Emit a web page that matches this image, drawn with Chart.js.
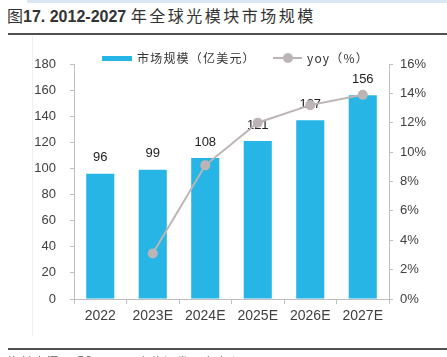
<!DOCTYPE html>
<html><head><meta charset="utf-8">
<script src="https://cdn.jsdelivr.net/npm/chart.js@4.4.1/dist/chart.umd.min.js"></script>
<style>
html,body{margin:0;padding:0;background:#fff;width:447px;height:357px;overflow:hidden;position:relative;font-family:"Liberation Sans",Arial,sans-serif;}
#band{position:absolute;left:27px;top:0;width:420px;height:3px;background:#dbe6f5;}
#title{position:absolute;left:7px;top:4px;font-size:16px;color:#333;white-space:nowrap;line-height:22px;}
#title .cn0{font-family:"Noto Sans CJK SC",sans-serif;font-weight:normal;}
#title .num{font-family:"Liberation Sans",Arial,sans-serif;font-weight:bold;}
#title .cn{font-family:"Noto Sans CJK SC",sans-serif;font-weight:normal;letter-spacing:2.5px;}
#rule1{position:absolute;left:8px;top:33px;width:439px;height:2px;background:#505050;}
#rule2{position:absolute;left:8px;top:348px;width:439px;height:2px;background:#505050;}
#frame{position:absolute;left:32px;top:36px;width:1px;height:300px;background:#f0f0f0;}
#footer{position:absolute;left:8px;top:353px;font-size:11px;color:#555;font-family:"Noto Sans CJK SC",sans-serif;white-space:nowrap;letter-spacing:2px;}
#wrap{position:absolute;left:0;top:0;width:447px;height:357px;}
.lg{position:absolute;top:49px;font-size:12px;color:#333;font-family:"Noto Sans CJK SC",sans-serif;white-space:nowrap;line-height:18px;letter-spacing:1.2px;}
#lgbar{position:absolute;left:102px;top:56px;width:30px;height:5px;background:#27b5e6;}
#lgline{position:absolute;left:273px;top:57px;width:29px;height:2px;background:#bdb5b5;}
#lgdot{position:absolute;left:283px;top:53px;width:10px;height:10px;border-radius:50%;background:#bdb5b5;}
</style></head>
<body>
<div id="band"></div>
<div id="title"><span class="cn0">图</span><span class="num">17. 2012-2027 </span><span class="cn">年全球光模块市场规模</span></div>
<div id="rule1"></div>
<div id="frame"></div>
<div id="wrap"><canvas id="c" width="447" height="357"></canvas></div>
<div id="lgbar"></div><div class="lg" style="left:137px">市场规模（亿美元）</div>
<div id="lgline"></div><div id="lgdot"></div><div class="lg" style="left:307px">yoy（%）</div>
<div id="rule2"></div>
<div id="footer">资料来源：明阳天下，安信证券研究中心</div>
<script>
const categories = ["2022","2023E","2024E","2025E","2026E","2027E"];
const marketSize = [96,99,108,121,137,156];
const yoyPct = [null,3.1,9.1,12.0,13.2,13.9];
const leftTicks = [0,20,40,60,80,100,120,140,160,180];
const rightTicks = [0,2,4,6,8,10,12,14,16];

const labelPlugin = {
  id:'barLabels',
  afterDatasetDraw(chart,args){
    if(args.index!==0) return;
    const ctx=chart.ctx; const meta=chart.getDatasetMeta(0);
    ctx.save();
    ctx.font='13px "Liberation Sans", Arial, sans-serif';
    ctx.fillStyle='#222'; ctx.textAlign='center'; ctx.textBaseline='middle';
    meta.data.forEach((el,i)=>{ ctx.fillText(String(marketSize[i]), el.x, el.y-16); });
    ctx.restore();
  }
};

new Chart(document.getElementById('c'),{
  data:{
    labels:categories,
    datasets:[
      {type:'bar',label:'市场规模（亿美元）',data:marketSize,backgroundColor:'#27b5e6',borderWidth:0,yAxisID:'y',order:1,categoryPercentage:1,barPercentage:0.535},
      {type:'line',label:'yoy（%）',data:yoyPct,borderColor:'#bdb5b5',backgroundColor:'#bdb5b5',borderWidth:2,pointRadius:5,pointHoverRadius:5,pointBackgroundColor:'#bdb5b5',pointBorderWidth:0,yAxisID:'y1',order:0,tension:0}
    ]
  },
  options:{
    responsive:false,animation:false,
    layout:{padding:{top:64,left:0,right:0,bottom:0}},
    plugins:{legend:{display:false},tooltip:{enabled:false}},
    scales:{
      x:{
        grid:{display:true,drawOnChartArea:false,drawTicks:true,tickLength:5,color:'#bfbfbf',offset:true},
        border:{display:true,color:'#bfbfbf'},
        ticks:{color:'#404040',font:{size:14,family:'"Liberation Sans", Arial, sans-serif'},padding:4,maxRotation:0},
        afterFit(s){s.height=58;}
      },
      y:{
        position:'left',min:0,max:180,
        afterBuildTicks(s){s.ticks=leftTicks.map(v=>({value:v}));},
        grid:{display:true,drawOnChartArea:false,drawTicks:true,tickLength:4,color:'#bfbfbf'},
        border:{display:true,color:'#bfbfbf'},
        ticks:{color:'#404040',font:{size:13,family:'"Liberation Sans", Arial, sans-serif'},padding:14},
        afterFit(s){s.width=74;}
      },
      y1:{
        position:'right',min:0,max:16,
        afterBuildTicks(s){s.ticks=rightTicks.map(v=>({value:v}));},
        grid:{display:true,drawOnChartArea:false,drawTicks:true,tickLength:4,color:'#bfbfbf'},
        border:{display:true,color:'#bfbfbf'},
        ticks:{color:'#404040',font:{size:13,family:'"Liberation Sans", Arial, sans-serif'},padding:7,callback:v=>v+'%'},
        afterFit(s){s.width=58;}
      }
    }
  },
  plugins:[labelPlugin]
});
</script>
</body></html>
